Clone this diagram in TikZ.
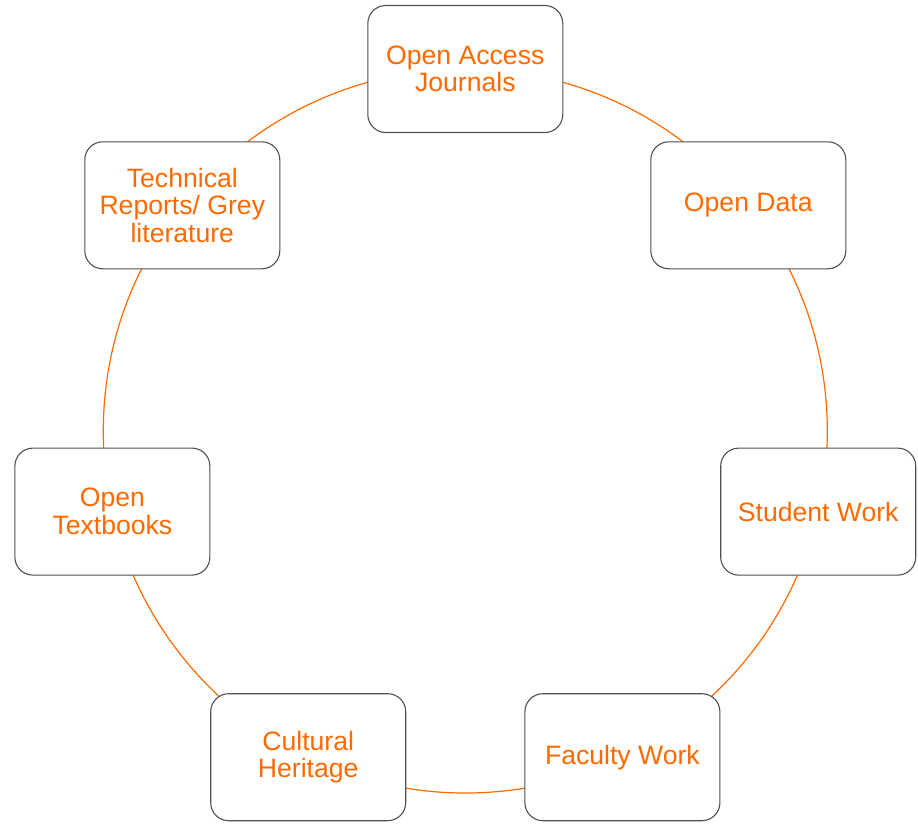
\documentclass[tikz,border=0pt]{standalone}
\usepackage{fontspec}
\setmainfont{Liberation Sans}
\definecolor{txtorange}{HTML}{FF6A00}
\definecolor{ringorange}{HTML}{FF6A00}
\definecolor{boxgray}{HTML}{505050}
\begin{document}
\begin{tikzpicture}[x=1pt,y=-1pt,
  cyclebox/.style={draw=boxgray, line width=1.1pt, fill=white, rounded corners=18pt,
    minimum width=195pt, minimum height=127pt, inner sep=0pt, align=center,
    text=txtorange, font=\fontsize{26.6}{27.6}\selectfont},
  ring/.style={draw=ringorange, line width=1.2pt}]
\useasboundingbox (0,0) rectangle (918,823);
\coordinate (ctr) at (465.3,431);
\draw[ring] (ctr) circle[radius=362pt];
\node[cyclebox] (oaj) at (465.3,69) {Open Access\\Journals};
\node[cyclebox] (od)  at (748.3,205.3) {Open Data};
\node[cyclebox] (sw)  at (818.2,511.6) {Student Work};
\node[cyclebox] (fw)  at (622.4,757.2) {Faculty Work};
\node[cyclebox] (ch)  at (308.2,757.2) {Cultural\\Heritage};
\node[cyclebox] (ot)  at (112.4,511.6) {Open\\Textbooks};
\node[cyclebox] (tr)  at (182.3,205.3) {Technical\\Reports/ Grey\\literature};
\end{tikzpicture}
\end{document}
